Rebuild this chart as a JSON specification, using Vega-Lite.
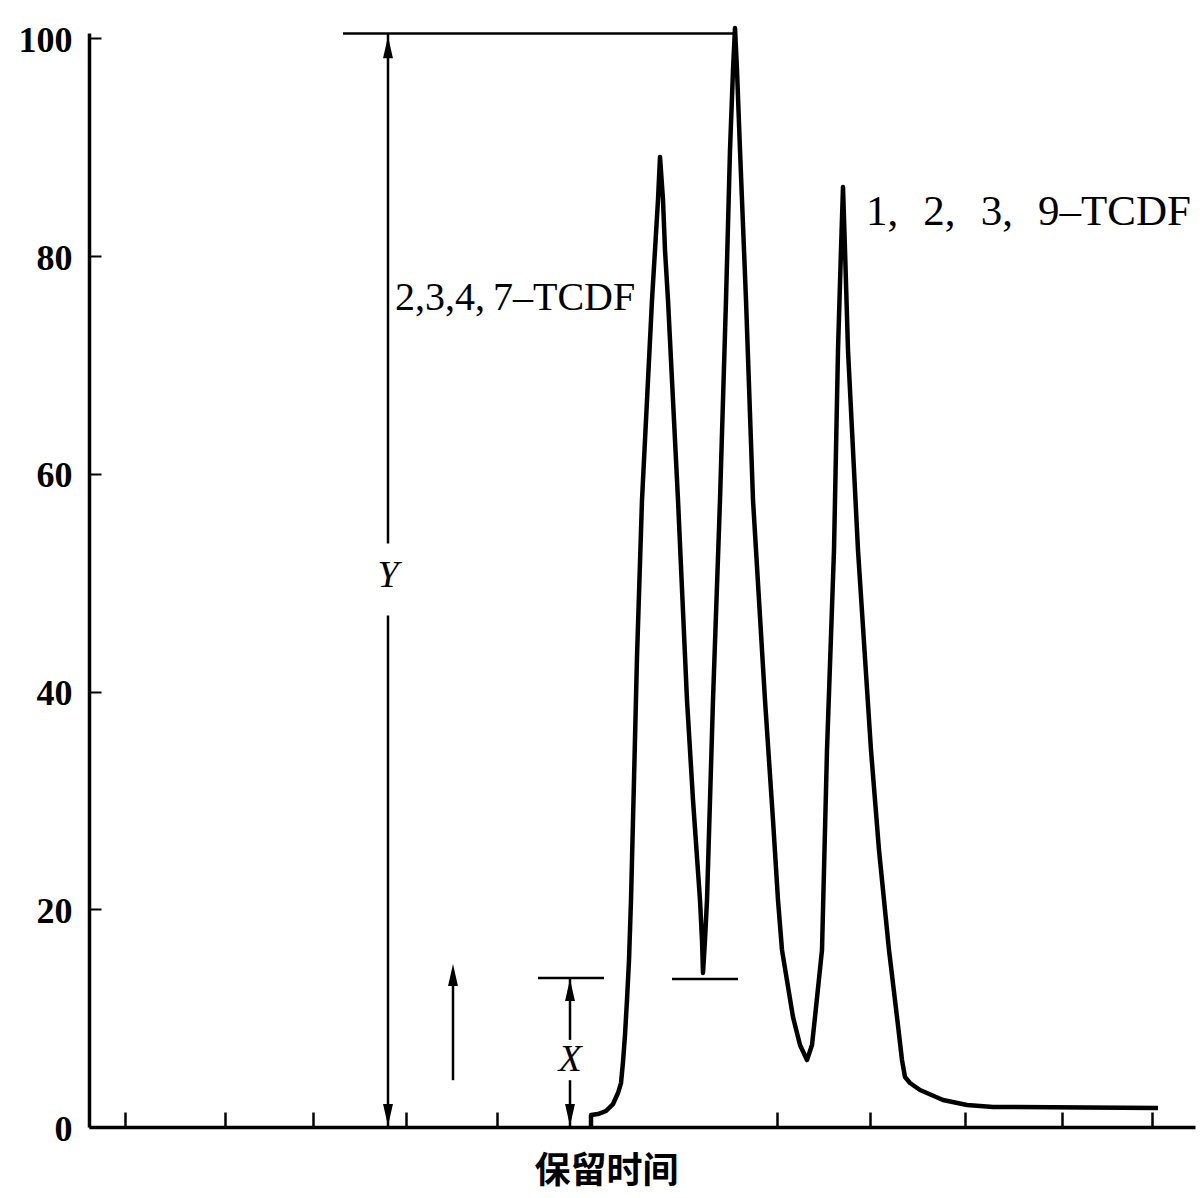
{
  "$schema": "https://vega.github.io/schema/vega-lite/v6.json",
  "autosize": {"type": "none"},
  "width": 1106,
  "height": 1094,
  "padding": {"left": 89, "top": 33, "right": 8, "bottom": 71},
  "background": "white",
  "config": {"view": {"stroke": null}},
  "datasets": {
    "curve": [
      {"t": 502, "v": 0}, {"t": 502, "v": 1.10}, {"t": 509, "v": 1.19}, {"t": 517, "v": 1.47},
      {"t": 524, "v": 2.11}, {"t": 529, "v": 3.12}, {"t": 532, "v": 4.04}, {"t": 534, "v": 5.97},
      {"t": 536, "v": 8.45}, {"t": 538, "v": 11.67}, {"t": 540, "v": 15.34}, {"t": 542, "v": 20.85},
      {"t": 545, "v": 31.88}, {"t": 548, "v": 43.18}, {"t": 553, "v": 57.6}, {"t": 558, "v": 66.78},
      {"t": 563, "v": 75.97}, {"t": 566, "v": 80.56}, {"t": 569, "v": 85.16}, {"t": 571, "v": 89.11},
      {"t": 574, "v": 85.16}, {"t": 576, "v": 80.56}, {"t": 579, "v": 75.97}, {"t": 584, "v": 66.78},
      {"t": 589, "v": 57.6}, {"t": 598, "v": 39.22}, {"t": 604, "v": 30.04}, {"t": 611, "v": 20.85},
      {"t": 613, "v": 17.18}, {"t": 614, "v": 14.15}, {"t": 616, "v": 17.18}, {"t": 618, "v": 20.85},
      {"t": 624, "v": 39.22}, {"t": 631, "v": 57.6}, {"t": 637, "v": 75.97}, {"t": 641, "v": 89.75},
      {"t": 644, "v": 97.1}, {"t": 646, "v": 100.95}, {"t": 648, "v": 97.1}, {"t": 651, "v": 89.75},
      {"t": 657, "v": 75.97}, {"t": 664, "v": 57.6}, {"t": 676, "v": 39.22}, {"t": 684, "v": 28.2},
      {"t": 689, "v": 20.85}, {"t": 693, "v": 16.26}, {"t": 704, "v": 10.1}, {"t": 711, "v": 7.53},
      {"t": 718, "v": 6.15}, {"t": 723, "v": 7.53}, {"t": 726, "v": 10.1}, {"t": 733, "v": 16.26},
      {"t": 738, "v": 34.63}, {"t": 745, "v": 53.0}, {"t": 749, "v": 71.38}, {"t": 752, "v": 80.56},
      {"t": 754, "v": 86.35}, {"t": 756, "v": 80.56}, {"t": 759, "v": 71.38}, {"t": 769, "v": 53.0},
      {"t": 782, "v": 34.63}, {"t": 790, "v": 25.45}, {"t": 800, "v": 16.26}, {"t": 808, "v": 10.1},
      {"t": 813, "v": 6.15}, {"t": 816, "v": 4.59}, {"t": 821, "v": 4.04}, {"t": 831, "v": 3.4},
      {"t": 854, "v": 2.48}, {"t": 878, "v": 2.02}, {"t": 904, "v": 1.84}, {"t": 1069, "v": 1.75}
    ],
    "segments": [
      {"t": 254, "t2": 646, "v": 100.45, "v2": 100.45},
      {"t": 299, "t2": 299, "v": 100.45, "v2": 53.6},
      {"t": 299, "t2": 299, "v": 47.0, "v2": 0},
      {"t": 449, "t2": 515, "v": 13.69, "v2": 13.69},
      {"t": 481, "t2": 481, "v": 13.69, "v2": 8.0},
      {"t": 481, "t2": 481, "v": 4.3, "v2": 0},
      {"t": 583, "t2": 649, "v": 13.6, "v2": 13.6},
      {"t": 364, "t2": 364, "v": 4.3, "v2": 14.0}
    ],
    "arrows": [
      {"t": 299, "v": 99.2, "dir": "up"},
      {"t": 299, "v": 1.1, "dir": "down"},
      {"t": 481, "v": 12.58, "dir": "up"},
      {"t": 481, "v": 1.1, "dir": "down"},
      {"t": 364, "v": 13.96, "dir": "up"}
    ],
    "labelLeft": [
      {"t": 306, "v": 76.2, "text": "2,3,4,\u20097–TCDF"}
    ],
    "labelRight": [
      {"t": 777, "v": 84.05, "text": "1,\u2002\u200a2,\u2002\u200a3,\u2002\u200a9–TCDF"}
    ],
    "symbols": [
      {"t": 299, "v": 50.6, "text": "Y"},
      {"t": 481, "v": 6.15, "text": "X"}
    ]
  },
  "layer": [
    {
      "data": {"name": "curve"},
      "mark": {"type": "line", "color": "black", "strokeWidth": 4.5, "strokeJoin": "round", "strokeCap": "butt"},
      "encoding": {
        "x": {
          "field": "t", "type": "quantitative",
          "scale": {"domain": [0, 1106], "nice": false, "zero": false},
          "axis": {
            "values": [36, 136, 224, 317, 408, 688, 781, 876, 973, 1063],
            "labels": false, "grid": false,
            "domainColor": "black", "domainWidth": 3.5,
            "tickColor": "black", "tickWidth": 2.5, "tickSize": -15,
            "title": "保留时间",
            "titleFont": "Noto Sans CJK SC", "titleFontSize": 36, "titleFontWeight": "bold",
            "titleColor": "black",
            "titleX": 517, "titleY": 27, "titleAnchor": "middle", "titleAlign": "center", "titleBaseline": "top"
          }
        },
        "y": {
          "field": "v", "type": "quantitative",
          "scale": {"domain": [0, 100.5], "nice": false, "zero": true},
          "axis": {
            "values": [0, 20, 40, 60, 80, 100],
            "grid": false, "title": null,
            "domainColor": "black", "domainWidth": 3.5,
            "tickColor": "black", "tickWidth": 2, "tickSize": -12,
            "labelFont": "Liberation Serif", "labelFontSize": 36, "labelFontWeight": "bold",
            "labelColor": "black", "labelPadding": 29, "labelOffset": 2
          }
        }
      }
    },
    {
      "data": {"name": "segments"},
      "mark": {"type": "rule", "color": "black", "strokeWidth": 2.5},
      "encoding": {
        "x": {"field": "t", "type": "quantitative"},
        "x2": {"field": "t2"},
        "y": {"field": "v", "type": "quantitative"},
        "y2": {"field": "v2"}
      }
    },
    {
      "data": {"name": "arrows"},
      "mark": {"type": "point", "filled": true, "color": "black", "opacity": 1, "size": 484, "strokeWidth": 0},
      "encoding": {
        "x": {"field": "t", "type": "quantitative"},
        "y": {"field": "v", "type": "quantitative"},
        "shape": {
          "field": "dir", "type": "nominal",
          "scale": {"domain": ["up", "down"], "range": ["M-0.45,1L0,-1L0.45,1Z", "M-0.45,-1L0,1L0.45,-1Z"]},
          "legend": null
        }
      }
    },
    {
      "data": {"name": "labelLeft"},
      "mark": {"type": "text", "font": "Liberation Serif", "fontSize": 40, "align": "left", "baseline": "middle", "color": "black"},
      "encoding": {
        "x": {"field": "t", "type": "quantitative"},
        "y": {"field": "v", "type": "quantitative"},
        "text": {"field": "text"}
      }
    },
    {
      "data": {"name": "labelRight"},
      "mark": {"type": "text", "font": "Liberation Serif", "fontSize": 43, "align": "left", "baseline": "middle", "color": "black"},
      "encoding": {
        "x": {"field": "t", "type": "quantitative"},
        "y": {"field": "v", "type": "quantitative"},
        "text": {"field": "text"}
      }
    },
    {
      "data": {"name": "symbols"},
      "mark": {"type": "text", "font": "Liberation Serif", "fontSize": 38, "fontStyle": "italic", "align": "center", "baseline": "middle", "color": "black"},
      "encoding": {
        "x": {"field": "t", "type": "quantitative"},
        "y": {"field": "v", "type": "quantitative"},
        "text": {"field": "text"}
      }
    }
  ]
}
